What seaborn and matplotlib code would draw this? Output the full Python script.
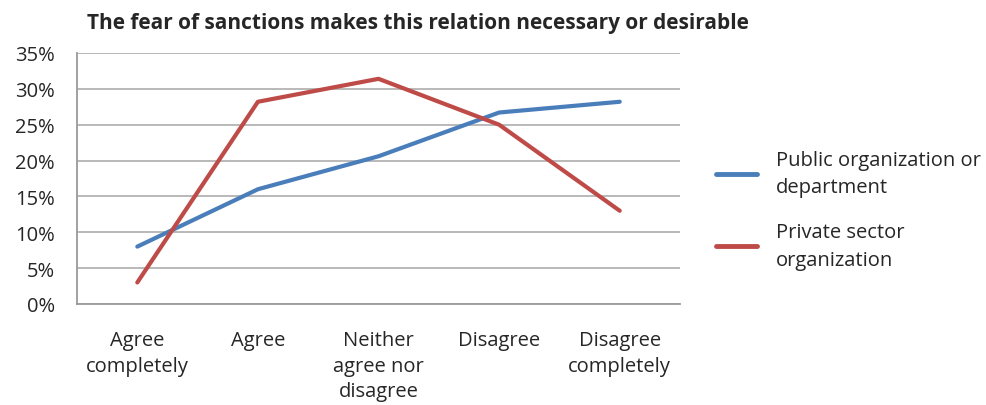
import numpy as np
import pandas as pd
import seaborn as sns
import matplotlib.pyplot as plt
from matplotlib.ticker import FixedLocator, PercentFormatter

categories = ["Agree\ncompletely", "Agree", "Neither\nagree nor\ndisagree",
              "Disagree", "Disagree\ncompletely"]
public_vals = [0.080, 0.160, 0.206, 0.267, 0.282]
private_vals = [0.030, 0.282, 0.314, 0.250, 0.130]
series_names = ["Public organization or\ndepartment", "Private sector\norganization"]
colors = ["#4a7ebb", "#be4b48"]
y_ticks = [0, 0.05, 0.10, 0.15, 0.20, 0.25, 0.30, 0.35]

df = pd.DataFrame({
    "category": categories * 2,
    "value": public_vals + private_vals,
    "series": [series_names[0]] * len(categories) + [series_names[1]] * len(categories),
})

sns.set_style("white")
plt.rcParams["font.family"] = ["Open Sans", "DejaVu Sans"]

fig = plt.figure(figsize=(9.86, 4.06), dpi=100)
ax = fig.add_axes([0.0781, 0.2488, 0.6116, 0.6182])

sns.lineplot(data=df, x="category", y="value", hue="series", hue_order=series_names,
             palette=colors, linewidth=3, sort=False, ax=ax)

ax.set_xlim(-0.5, len(categories) - 0.5)
ax.set_ylim(0, 0.35)
ax.set_yticks(y_ticks)
ax.yaxis.set_major_formatter(PercentFormatter(1.0, decimals=0))
ax.grid(axis="y", color="#b3b3b3", linewidth=1.3)
ax.set_axisbelow(True)
for s in ["top", "right"]:
    ax.spines[s].set_visible(False)
for s in ["left", "bottom"]:
    ax.spines[s].set_color("#9a9a9a")
    ax.spines[s].set_linewidth(1.3)

ax.set_xticks(range(len(categories)))
ax.set_xticklabels(categories, fontsize=14.5, linespacing=1.36, va="top")
ax.xaxis.set_minor_locator(FixedLocator(np.arange(-0.5, len(categories), 1.0)))
ax.tick_params(axis="x", which="major", length=0, pad=19)
ax.tick_params(axis="x", which="minor", length=7, width=1.3, color="#9a9a9a", direction="out")
ax.tick_params(axis="y", length=7, width=1.3, color="#9a9a9a", direction="out", labelsize=14.5, pad=9)
ax.set_xlabel("")
ax.set_ylabel("")

ax.set_title("The fear of sanctions makes this relation necessary or desirable",
             fontsize=15, fontweight="bold", pad=18, x=0.565)

leg = ax.legend(loc="center left", bbox_to_anchor=(1.06, 0.376), frameon=False,
                borderaxespad=0, borderpad=0, fontsize=14.5, handlelength=2.0,
                handletextpad=0.95, labelspacing=1.25)
for line in leg.get_lines():
    line.set_linewidth(3.5)
for txt in leg.get_texts():
    txt.set_linespacing(1.5)

fig.savefig("out.png", dpi=100)
